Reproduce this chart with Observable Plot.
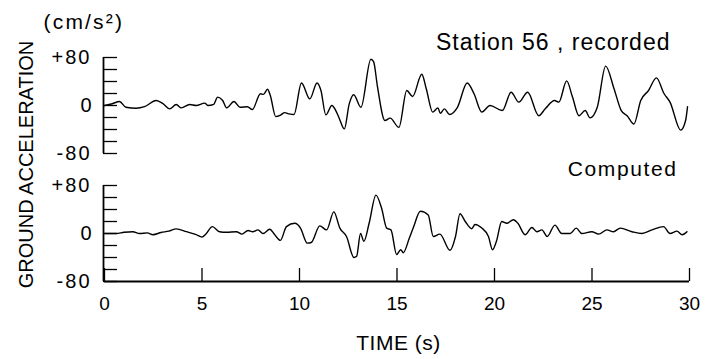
<!DOCTYPE html>
<html><head><meta charset="utf-8">
<script src="https://cdn.jsdelivr.net/npm/d3@7"></script>
<script src="https://cdn.jsdelivr.net/npm/@observablehq/plot@0.6"></script>
<style>
html,body{margin:0;padding:0;background:#fff;}
#chart{width:719px;height:359px;}
</style></head><body><div id="chart"></div>
<script>
const panels = ["Station 56 , recorded", "Computed"];
const unitLabel = "(cm/s²)";
const yLabel = "GROUND ACCELERATION";
const xLabel = "TIME (s)";
const yTickLabels = [-80, 0, 80];
const yMinorTicks = [-80, -60, -40, -20, 0, 20, 40, 60, 80];
const xTicks = [0, 5, 10, 15, 20, 25, 30];

const recTime = [0,0.4,0.77,1.1,1.62,2.05,2.65,3.0,3.34,3.68,3.94,4.37,4.7,5.14,5.3,5.6,5.8,6.06,6.27,6.64,6.95,7.33,7.58,8.0,8.15,8.36,8.5,8.78,9.04,9.24,9.47,9.72,10.1,10.53,10.9,11.1,11.35,11.66,11.86,12.03,12.3,12.55,12.78,13.15,13.66,13.8,14.0,14.38,14.65,15.1,15.5,15.8,16.27,16.5,16.83,17.1,17.22,17.43,17.69,18.1,18.6,18.95,19.35,19.77,20.4,20.85,21.25,21.7,22.27,22.6,23.08,23.3,23.7,24.0,24.33,24.65,24.9,25.27,25.7,26.13,26.5,26.8,27.15,27.5,27.9,28.3,28.7,29.0,29.55,29.8,29.9];
const recAccel = [0,3,6.7,-3,-4.5,-2,8.4,3,-5.6,1.7,-4,1.7,0,4,0,2,14,8.4,-4,6.7,-3,-2,-6.7,19.6,18.5,27,17,-18.5,-15.7,-11.8,-14,-15,37.6,11,37.6,25,-15.7,0,-8.4,-20.7,-39,2.8,18,-3,77,73,31,-25,-21,-36.5,25,15,52,28,-11,-4,-13,-5.6,-15,-3,37.6,19.6,-11,0,-8.4,22,5.6,22,-17,-5.6,8.4,5.6,41,14,-17,-8.4,-20.7,-3,65.6,28,-8.4,-17,-31,8.4,25,46,19.6,5.6,-41,-25,-2];

const compTime = [0,0.6,1.0,1.45,1.8,2.2,2.48,2.9,3.3,3.68,4.2,4.7,5.0,5.2,5.53,5.9,6.25,6.76,7.05,7.36,7.6,7.87,8.13,8.47,8.73,9.02,9.33,9.76,10.05,10.4,10.6,11.04,11.39,11.76,12.07,12.41,12.79,12.93,13.13,13.3,13.57,13.92,14.21,14.47,14.69,14.98,15.19,15.32,15.63,15.83,16.2,16.6,16.86,17.2,17.72,18.0,18.23,18.5,18.83,19.0,19.35,19.69,19.9,20.1,20.37,20.63,20.97,21.2,21.57,21.92,22.17,22.43,22.7,23.1,23.45,23.88,24.19,24.48,24.99,25.34,25.77,26.1,26.45,27.05,27.56,28.08,28.67,29.0,29.36,29.62,29.87];
const compAccel = [0,0,2,3,0,1,-2,1.6,4,7.7,3,-2,-6,-1,11.5,3,2,3,-1,5,3,6,0,7,-2,-11.5,11.5,17,9,-16,-15,12.7,6,36,9,-5,-40,-38,0,-13,17,64,42,9,6,-35,-27,-32,-8,9,37,31,-5,-1,-28,-5,33,20,8,15,9,-5,-27,-13,20,17,23,17,-2,10,3,6,-5,14,0,0,9,0,3,-1,6,3,9,3,0,6,11.5,0,4,-2,3];

const rows = [
  ...recTime.map((t, i) => ({t, v: recAccel[i], panel: panels[0]})),
  ...compTime.map((t, i) => ({t, v: compAccel[i], panel: panels[1]}))
];

const font = "'Liberation Sans', Arial, Helvetica, sans-serif";
const W = 719, H = 359, ML = 104, MR = 30, MT = 57, MB = 78;
const frameW = W - ML - MR;
const panelH = 96;

const plot = Plot.plot({
  width: W, height: H,
  marginLeft: ML, marginRight: MR, marginTop: MT, marginBottom: MB,
  style: {fontFamily: font, color: "#000", background: "#fff"},
  x: {domain: [xTicks[0], xTicks[xTicks.length - 1]]},
  y: {domain: [yTickLabels[0], yTickLabels[yTickLabels.length - 1]]},
  fy: {domain: panels, axis: null, paddingInner: 0.25, paddingOuter: 0},
  marks: [
    Plot.ruleX([xTicks[0]], {stroke: "#000", strokeWidth: 1.8, dx: -1}),
    Plot.tickY(yMinorTicks, {y: d => d, insetRight: frameW - 14, dx: -1, stroke: "#000", strokeWidth: 1.3}),
    Plot.ruleY([{panel: panels[1], v: yTickLabels[0]}], {y: "v", fy: "panel", stroke: "#000", strokeWidth: 2}),
    Plot.tickX(xTicks.map(t => ({t, panel: panels[1]})), {x: "t", fy: "panel", insetTop: panelH - 13, stroke: "#000", strokeWidth: 1.3}),
    Plot.axisY({ticks: yTickLabels, tickSize: 0, tickPadding: 13, fontSize: 20, label: null,
      tickFormat: d => d > 0 ? "+" + d : String(d)}),
    Plot.axisX({ticks: xTicks, tickSize: 0, tickPadding: 15, fontSize: 19, label: null}),
    Plot.line(rows, {x: "t", y: "v", fy: "panel", stroke: "#000", strokeWidth: 1.4, curve: "monotone-x"}),
    Plot.text([{panel: panels[0], s: panels[0]}], {text: "s", fy: "panel", frameAnchor: "top-right",
      textAnchor: "end", lineAnchor: "middle", dx: -19, dy: -15, fontSize: 23}),
    Plot.text([{panel: panels[1], s: panels[1]}], {text: "s", fy: "panel", frameAnchor: "top-right",
      textAnchor: "end", lineAnchor: "middle", dx: -12, dy: -16.5, fontSize: 21}),
    Plot.text([{panel: panels[0], s: unitLabel}], {text: "s", fy: "panel", frameAnchor: "top-left",
      textAnchor: "start", lineAnchor: "middle", dx: -61, dy: -35, fontSize: 21}),
    Plot.text([{panel: panels[0], s: yLabel}], {text: "s", fy: "panel", frameAnchor: "bottom-left",
      textAnchor: "middle", lineAnchor: "middle", rotate: -90, dx: -77.5, dy: 11, fontSize: 20}),
    Plot.text([{panel: panels[1], s: xLabel}], {text: "s", fy: "panel", frameAnchor: "bottom",
      textAnchor: "middle", lineAnchor: "middle", dx: 1.5, dy: 61.5, fontSize: 21})
  ]
});

const spacing = {"+80": 2, "0": 0, "-80": 2};
spacing[panels[0]] = 1;
spacing[panels[1]] = 1.6;
spacing[unitLabel] = 2.2;
spacing[xLabel] = 0.5;
d3.select(plot).selectAll("text").each(function() {
  const s = spacing[this.textContent];
  if (s) this.style.letterSpacing = s + "px";
});
document.getElementById("chart").appendChild(plot);
</script></body></html>
